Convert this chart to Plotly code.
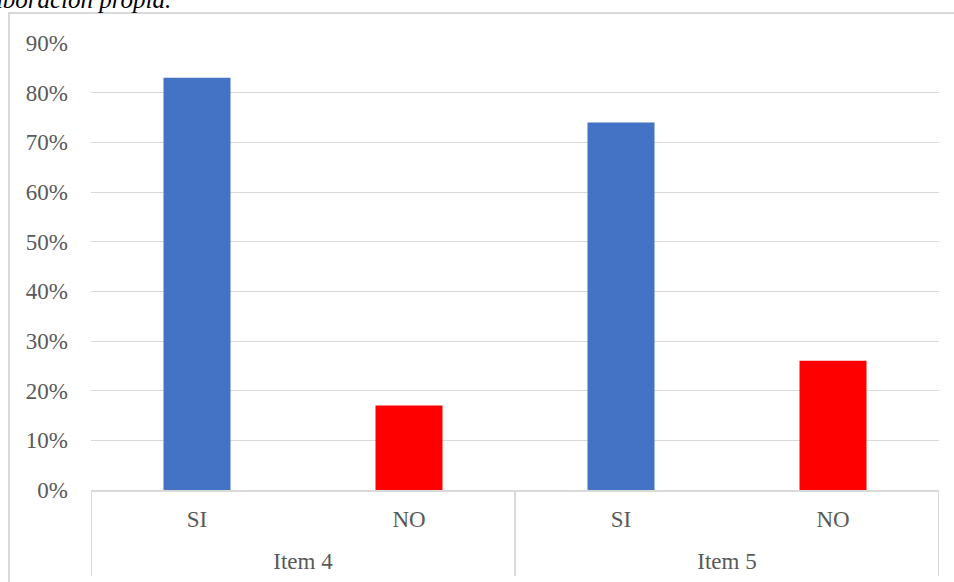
import plotly.graph_objects as go

# Survey answers per item
items = ["Item 4", "Item 4", "Item 5", "Item 5"]
answers = ["SI", "NO", "SI", "NO"]
shares = [0.83, 0.17, 0.74, 0.26]
bar_colors = ["#4472C4", "#FF0000", "#4472C4", "#FF0000"]

y_ticks = [0, 0.1, 0.2, 0.3, 0.4, 0.5, 0.6, 0.7, 0.8, 0.9]

text_color = "#595959"
grid_color = "#D9D9D9"
serif = "Liberation Serif, Times New Roman, serif"

# category slots along x, one per answer
slots = list(range(len(answers)))
groups = list(dict.fromkeys(items))
group_slots = [[s for s, it in zip(slots, items) if it == g] for g in groups]
group_centers = [sum(gs) / len(gs) for gs in group_slots]
group_edges = [group_slots[0][0] - 0.5] + [gs[-1] + 0.5 for gs in group_slots]

W, H = 954, 582
L, R, T, B = 91, 15, 43, 92
pw, ph = W - L - R, H - T - B


def px_x(x):
    return (x - L) / pw


def px_y(y):
    return (H - B - y) / ph


fig = go.Figure(
    go.Bar(
        x=slots,
        y=shares,
        marker=dict(color=bar_colors, line=dict(width=0)),
        width=0.316,
        hoverinfo="skip",
    )
)
# invisible companion trace so the group axis is rendered
fig.add_trace(
    go.Scatter(x=group_centers, y=[None] * len(groups), xaxis="x2",
               mode="markers", showlegend=False, hoverinfo="skip")
)

x_range = [group_edges[0], group_edges[-1]]
label_font = dict(family=serif, size=23, color=text_color)

fig.update_layout(
    width=W,
    height=H,
    margin=dict(l=L, r=R, t=T, b=B, autoexpand=False),
    paper_bgcolor="white",
    plot_bgcolor="white",
    showlegend=False,
    font=dict(family=serif, size=23, color=text_color),
    xaxis=dict(
        range=x_range,
        tickvals=slots,
        ticktext=answers,
        showline=True,
        linecolor=grid_color,
        linewidth=2,
        showgrid=False,
        zeroline=False,
        ticks="",
        ticklabelstandoff=7,
        tickfont=label_font,
        automargin=False,
        fixedrange=True,
    ),
    xaxis2=dict(
        range=x_range,
        overlaying="x",
        side="bottom",
        anchor="y",
        tickvals=group_centers,
        ticktext=groups,
        showline=False,
        showgrid=False,
        zeroline=False,
        ticks="",
        ticklabelstandoff=55,
        tickfont=label_font,
        automargin=False,
        fixedrange=True,
    ),
    yaxis=dict(
        range=[0, 0.9],
        tickvals=y_ticks,
        tickformat=".0%",
        showgrid=True,
        gridcolor=grid_color,
        gridwidth=1.3,
        zeroline=False,
        showline=False,
        ticks="",
        ticklabelstandoff=22,
        tickfont=label_font,
        automargin=False,
        fixedrange=True,
    ),
)

shapes = [
    # outer chart frame
    dict(
        type="rect",
        xref="paper",
        yref="paper",
        x0=px_x(9),
        x1=px_x(1000),
        y0=px_y(640),
        y1=px_y(13),
        line=dict(color=grid_color, width=2),
        fillcolor="rgba(0,0,0,0)",
        layer="below",
    )
]
# group dividers below the category axis
for edge in group_edges:
    shapes.append(
        dict(
            type="line",
            xref="x",
            yref="paper",
            x0=edge,
            x1=edge,
            y0=0,
            y1=px_y(576),
            line=dict(color=grid_color, width=2),
        )
    )
fig.update_layout(shapes=shapes)

fig.add_annotation(
    text="Elaboración propia.",
    xref="paper",
    yref="paper",
    x=px_x(173),
    y=px_y(-1),
    xanchor="right",
    yanchor="middle",
    showarrow=False,
    font=dict(family=serif, size=25, color="black", style="italic"),
)

fig.write_html("out.html")
